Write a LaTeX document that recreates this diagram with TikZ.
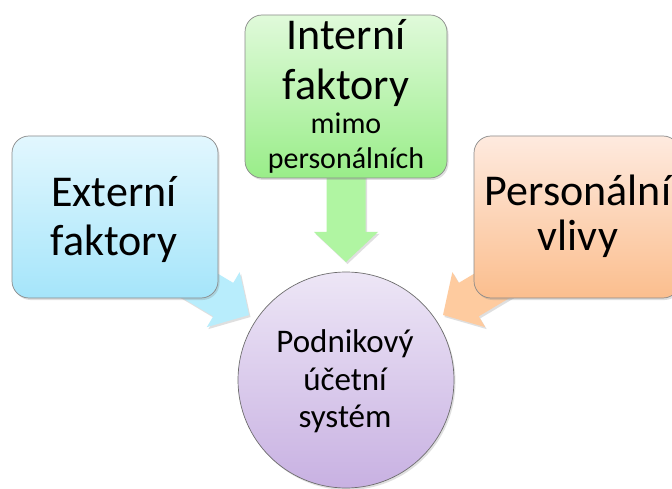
\documentclass[tikz,border=0pt]{standalone}
\usepackage{fontspec}
\setmainfont{Carlito}
\usetikzlibrary{calc,shadows}
\definecolor{blueTop}{HTML}{E2F7FE}
\definecolor{blueBot}{HTML}{A5E5FA}
\definecolor{greenTop}{HTML}{E0FADA}
\definecolor{greenBot}{HTML}{99ED89}
\definecolor{orangeTop}{HTML}{FEEADF}
\definecolor{orangeBot}{HTML}{FBBE8E}
\definecolor{purpleTop}{HTML}{EDE6F6}
\definecolor{purpleBot}{HTML}{C8B1E2}
\definecolor{blueArr}{HTML}{B8EDFC}
\definecolor{greenArr}{HTML}{B0F5A2}
\definecolor{orangeArr}{HTML}{FECB9F}
\definecolor{edge}{HTML}{8A8A8A}
\newcommand\blockarrow[3]{%
  \coordinate (ba-b) at ($(#2)!30pt!(#1)$);
  \fill[#3] ($(#1)!19.5pt!90:(#2)$) -- ($(ba-b)!19.5pt!90:(#2)$)
    -- ($(ba-b)!32pt!90:(#2)$) -- (#2) -- ($(ba-b)!32pt!-90:(#2)$)
    -- ($(ba-b)!19.5pt!-90:(#2)$) -- ($(#1)!19.5pt!-90:(#2)$) -- cycle;
}
\tikzset{
  shade/.style={drop shadow={shadow xshift=1.5pt,shadow yshift=-2pt,opacity=0.25}},
  box/.style={draw=edge, line width=0.7pt, rounded corners=17pt, shade,
    minimum width=206pt, minimum height=162pt, inner sep=0pt},
  arr/.style={shade},
  big/.style={font=\fontsize{44}{48}\selectfont, inner sep=0pt, anchor=base},
  small/.style={font=\fontsize{30}{35}\selectfont, inner sep=0pt, anchor=base},
  mid/.style={font=\fontsize{33}{37}\selectfont, inner sep=0pt, anchor=base},
}
\begin{document}
\begin{tikzpicture}[x=1pt,y=-1pt]
\useasboundingbox (0,0) rectangle (672,489);
\fill[white] (0,0) rectangle (672,489);
% arrow anchors
\coordinate (sL) at (120,238);
\coordinate (tL) at (249,315);
\coordinate (sR) at (572,238);
\coordinate (tR) at (443,315);
\coordinate (sT) at (346,150);
\coordinate (tT) at (346,262);
% arrows
\blockarrow{sL}{tL}{arr, blueArr}
\blockarrow{sR}{tR}{arr, orangeArr}
\blockarrow{sT}{tT}{arr, greenArr}
% boxes
\node[box, top color=blueTop, bottom color=blueBot] (ext) at (115,217) {};
\node[box, top color=orangeTop, bottom color=orangeBot] (pers) at (577,217) {};
\node[box, top color=greenTop, bottom color=greenBot, minimum width=202pt, minimum height=163pt] (int) at (346,96.5) {};
\node[circle, draw=edge!80!black, line width=0.7pt, shade, top color=purpleTop, bottom color=purpleBot,
  minimum size=216pt, inner sep=0pt] (sys) at (346,380) {};
% texts
\node[big] (ext1) at (114,207) {Externí};
\node[big] (ext2) at (114,255) {faktory};
\node[big] (int1) at (346,50) {Interní};
\node[big] (int2) at (346,100) {faktory};
\node[small] (int3) at (346,134) {mimo};
\node[small] (int4) at (346,169) {personálních};
\node[big] (pers1) at (578,206) {Personální};
\node[big] (pers2) at (578,251) {vlivy};
\node[mid] (sys1) at (345,352) {Podnikový};
\node[mid] (sys2) at (345,390) {účetní};
\node[mid] (sys3) at (345,427) {systém};
\end{tikzpicture}
\end{document}
